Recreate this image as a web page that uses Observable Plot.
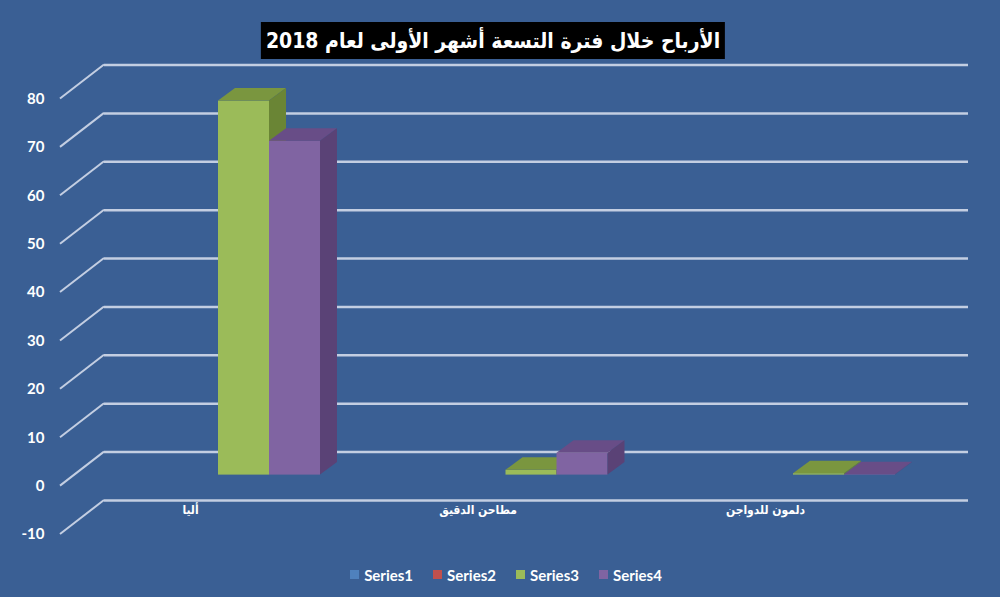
<!DOCTYPE html>
<html>
<head>
<meta charset="utf-8">
<script src="https://cdn.jsdelivr.net/npm/d3@7"></script>
<script src="https://cdn.jsdelivr.net/npm/@observablehq/plot@0.6"></script>
<style>
  html, body { margin: 0; padding: 0; background: #3a5f94; width: 1000px; height: 597px; overflow: hidden; }
  #title { height: 62px; position: relative; }
  #title div {
    position: absolute; left: 493px; top: 22px; height: 37px; transform: translateX(-50%);
    padding: 0 5px;
    background: #000; color: #fff; font: bold 21px "DejaVu Sans Condensed", "DejaVu Sans", sans-serif;
    font-stretch: condensed;
    display: flex; align-items: center; justify-content: center; direction: rtl; white-space: nowrap;
  }
  #chart { height: 488px; }
  #legend { margin-top: 8px; padding-left: 32px; }
  #legend .lg-swatch { margin-right: 20px !important; }
  #legend .lg-swatch > svg { margin-right: 5px !important; }
</style>
</head>
<body>
<div id="title"><div>الأرباح خلال فترة التسعة أشهر الأولى لعام 2018</div></div>
<div id="chart"></div>
<div id="legend"></div>
<script>
// ---- data ----
const categories = ["أليا", "مطاحن الدقيق", "دلمون للدواجن"];
const seriesNames = ["Series1", "Series2", "Series3", "Series4"];
const seriesColors = ["#4f81bd", "#c0504d", "#9bbb59", "#8064a2"];
const series3 = [77.3, 1.0, 0.3];
const series4 = [69.0, 4.5, 0.1];
const yTicks = [-10, 0, 10, 20, 30, 40, 50, 60, 70, 80];

// ---- layout / style constants ----
const W = 0.1774;               // bar width in category units
const barDy = -11;              // bar front plane offset from label plane
const depth = [17, -12.5];      // bar depth vector (px)
const wall = [44, -34];         // back-wall offset (px)
const gridColor = "#c3cee2";

const rows = [];
categories.forEach((c, i) => {
  rows.push({cat: c, s: "Series3", v: series3[i], x1: i + 0.5 - W, x2: i + 0.5});
  rows.push({cat: c, s: "Series4", v: series4[i], x1: i + 0.5, x2: i + 0.5 + W});
});
const green = rows.filter(d => d.s === "Series3");
const purple = rows.filter(d => d.s === "Series4");

function diagonals(index, scales, values, dim) {
  const g = d3.create("svg:g").attr("stroke", gridColor).attr("stroke-width", 2);
  for (const t of yTicks) {
    const y0 = scales.y(t);
    g.append("line")
      .attr("x1", dim.marginLeft).attr("y1", y0)
      .attr("x2", dim.marginLeft + wall[0]).attr("y2", y0 + wall[1]);
  }
  return g.node();
}

function faces(data, topColor, sideColor) {
  return function(index, scales, values, dim) {
    const g = d3.create("svg:g");
    for (const d of data) {
      const xa = scales.x(d.x1), xb = scales.x(d.x2);
      const yt = scales.y(d.v) + barDy, yb = scales.y(0) + barDy;
      const [dx, dy] = depth;
      g.append("polygon").attr("fill", topColor)
        .attr("points", [[xa, yt], [xb, yt], [xb + dx, yt + dy], [xa + dx, yt + dy]].join(" "));
      g.append("polygon").attr("fill", sideColor)
        .attr("points", [[xb, yt], [xb + dx, yt + dy], [xb + dx, yb + dy], [xb, yb]].join(" "));
    }
    return g.node();
  };
}

const plot = Plot.plot({
  width: 1000,
  height: 488,
  marginLeft: 60,
  marginRight: 76,
  marginTop: 36.5,
  marginBottom: 16,
  style: {background: "transparent", color: "#fff", overflow: "visible"},
  x: {domain: [0, 3], range: [125.25, 987.75]},
  y: {domain: [-10, 80], range: [472, 36.5]},
  marks: [
    Plot.ruleY(yTicks, {dx: wall[0], dy: wall[1], stroke: gridColor, strokeWidth: 2.5}),
    diagonals,
    Plot.rectY(green, {x1: "x1", x2: "x2", y1: 0, y2: "v", fill: seriesColors[2], dy: barDy}),
    faces(green, "#7a963f", "#6a8535"),
    Plot.rectY(purple, {x1: "x1", x2: "x2", y1: 0, y2: "v", fill: seriesColors[3], dy: barDy}),
    faces(purple, "#684d87", "#5a4276"),
    Plot.axisY(yTicks, {tickSize: 0, tickPadding: 16, fontSize: 15, fontWeight: "bold", fontFamily: "Lato, sans-serif",
      tickFormat: d => String(d), label: null}),
    Plot.axisX([0.5, 1.5, 2.5], {tickSize: 0, tickFormat: d => categories[Math.floor(d)], dx: -79, dy: -38.5,
      fontSize: 12, fontWeight: "bold", fontFamily: "DejaVu Sans Condensed, DejaVu Sans, sans-serif", label: null})
  ]
});
document.getElementById("chart").appendChild(plot);

const legend = Plot.legend({
  color: {type: "ordinal", domain: seriesNames, range: seriesColors},
  swatchSize: 9,
  className: "lg",
  style: {color: "#fff", fontFamily: "Lato, sans-serif", fontWeight: "bold", fontSize: "15px", justifyContent: "center", margin: "0"}
});
document.getElementById("legend").appendChild(legend);
</script>
</body>
</html>
